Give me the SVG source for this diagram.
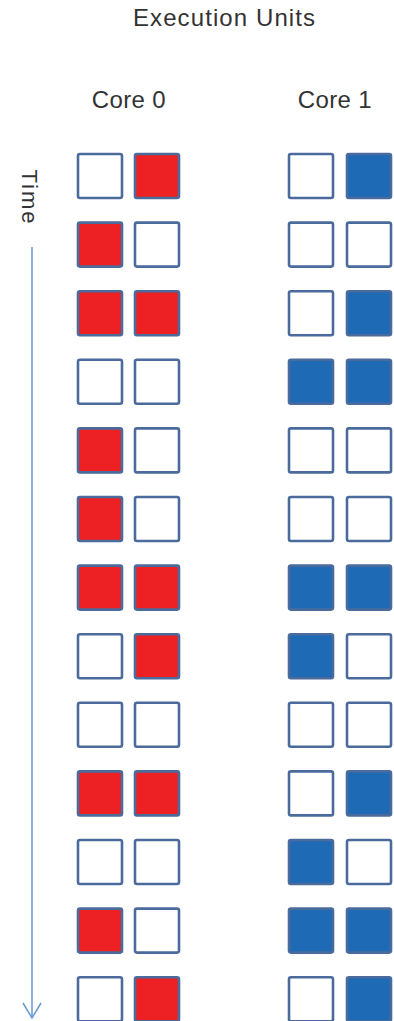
<svg xmlns="http://www.w3.org/2000/svg" width="394" height="1021" viewBox="0 0 394 1021">
<style>
text{font-family:"Liberation Sans",Arial,sans-serif;fill:#333;text-anchor:middle}
.t{font-size:24px}
.c{fill:#fff;stroke:#4a6b9c;stroke-width:2.6}
.r{fill:#ed2024;stroke:#4a6b9c;stroke-width:2.6}
.b{fill:#1e6ab4;stroke:#4a6b9c;stroke-width:2.6}
.ax{stroke:#6f9dd8;stroke-width:1.6;fill:none}
</style>
<defs>
<rect id="sq" width="44" height="44" rx="2"/>
</defs>
<g id="title"><text class="t" x="224" y="26" textLength="182" lengthAdjust="spacing">Execution Units</text></g>
<g id="core0-label"><text class="t" x="128.7" y="108" textLength="74" lengthAdjust="spacing">Core 0</text></g>
<g id="core1-label"><text class="t" x="334.7" y="108" textLength="74" lengthAdjust="spacing">Core 1</text></g>
<g id="time-label"><text class="t" style="font-size:22px" transform="translate(22,196.5) rotate(90)" textLength="54" lengthAdjust="spacing">Time</text></g>
<g id="connectors">
<line class="ax" x1="32" y1="247" x2="32" y2="1017"/>
<polyline class="ax" points="23,1003 32,1018 41,1003"/>
</g>
<g id="core0">
<g id="r1c0"><use href="#sq" class="c" x="78" y="154"/><use href="#sq" class="r" x="135" y="154"/></g>
<g id="r2c0"><use href="#sq" class="r" x="78" y="222.6"/><use href="#sq" class="c" x="135" y="222.6"/></g>
<g id="r3c0"><use href="#sq" class="r" x="78" y="291.2"/><use href="#sq" class="r" x="135" y="291.2"/></g>
<g id="r4c0"><use href="#sq" class="c" x="78" y="359.8"/><use href="#sq" class="c" x="135" y="359.8"/></g>
<g id="r5c0"><use href="#sq" class="r" x="78" y="428.4"/><use href="#sq" class="c" x="135" y="428.4"/></g>
<g id="r6c0"><use href="#sq" class="r" x="78" y="497"/><use href="#sq" class="c" x="135" y="497"/></g>
<g id="r7c0"><use href="#sq" class="r" x="78" y="565.6"/><use href="#sq" class="r" x="135" y="565.6"/></g>
<g id="r8c0"><use href="#sq" class="c" x="78" y="634.2"/><use href="#sq" class="r" x="135" y="634.2"/></g>
<g id="r9c0"><use href="#sq" class="c" x="78" y="702.8"/><use href="#sq" class="c" x="135" y="702.8"/></g>
<g id="r10c0"><use href="#sq" class="r" x="78" y="771.4"/><use href="#sq" class="r" x="135" y="771.4"/></g>
<g id="r11c0"><use href="#sq" class="c" x="78" y="840"/><use href="#sq" class="c" x="135" y="840"/></g>
<g id="r12c0"><use href="#sq" class="r" x="78" y="908.6"/><use href="#sq" class="c" x="135" y="908.6"/></g>
<g id="r13c0"><use href="#sq" class="c" x="78" y="977.2"/><use href="#sq" class="r" x="135" y="977.2"/></g>
</g>
<g id="core1">
<g id="r1c1"><use href="#sq" class="c" x="289" y="154"/><use href="#sq" class="b" x="347" y="154"/></g>
<g id="r2c1"><use href="#sq" class="c" x="289" y="222.6"/><use href="#sq" class="c" x="347" y="222.6"/></g>
<g id="r3c1"><use href="#sq" class="c" x="289" y="291.2"/><use href="#sq" class="b" x="347" y="291.2"/></g>
<g id="r4c1"><use href="#sq" class="b" x="289" y="359.8"/><use href="#sq" class="b" x="347" y="359.8"/></g>
<g id="r5c1"><use href="#sq" class="c" x="289" y="428.4"/><use href="#sq" class="c" x="347" y="428.4"/></g>
<g id="r6c1"><use href="#sq" class="c" x="289" y="497"/><use href="#sq" class="c" x="347" y="497"/></g>
<g id="r7c1"><use href="#sq" class="b" x="289" y="565.6"/><use href="#sq" class="b" x="347" y="565.6"/></g>
<g id="r8c1"><use href="#sq" class="b" x="289" y="634.2"/><use href="#sq" class="c" x="347" y="634.2"/></g>
<g id="r9c1"><use href="#sq" class="c" x="289" y="702.8"/><use href="#sq" class="c" x="347" y="702.8"/></g>
<g id="r10c1"><use href="#sq" class="c" x="289" y="771.4"/><use href="#sq" class="b" x="347" y="771.4"/></g>
<g id="r11c1"><use href="#sq" class="b" x="289" y="840"/><use href="#sq" class="c" x="347" y="840"/></g>
<g id="r12c1"><use href="#sq" class="b" x="289" y="908.6"/><use href="#sq" class="b" x="347" y="908.6"/></g>
<g id="r13c1"><use href="#sq" class="c" x="289" y="977.2"/><use href="#sq" class="b" x="347" y="977.2"/></g>
</g>
</svg>
